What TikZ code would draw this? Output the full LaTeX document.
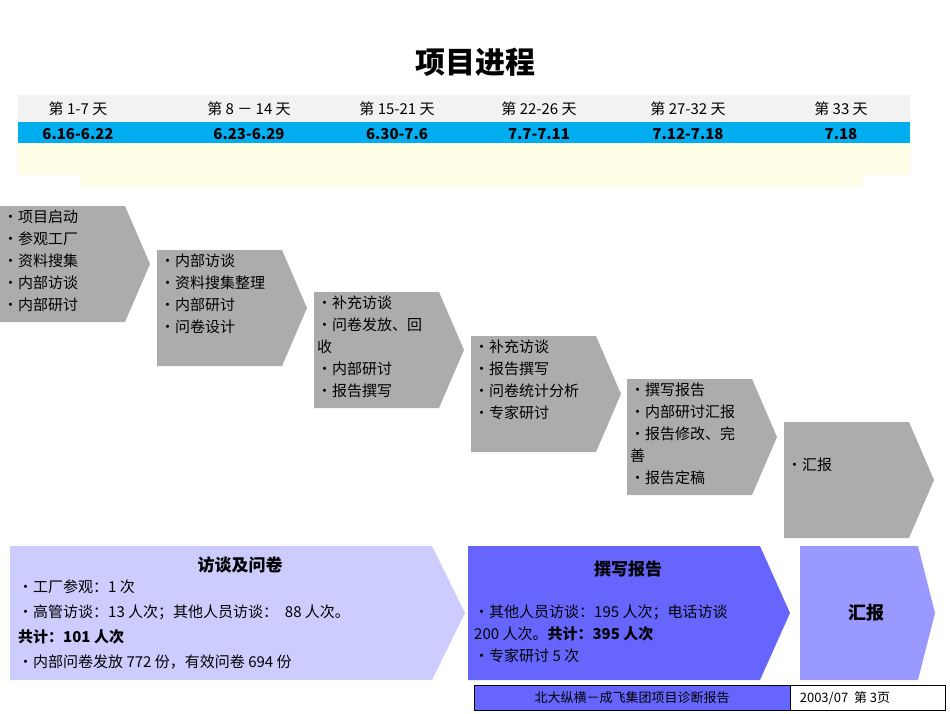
\documentclass[tikz,border=0pt]{standalone}
\usepackage{fontspec}
\setmainfont{Noto Sans CJK SC}
\begin{document}
\begin{tikzpicture}[x=1pt,y=-1pt,
 chev/.style={fill=gray!65,draw=white,line width=0.6pt},
 txt/.style={anchor=north west,align=left,font=\fontsize{15}{22}\selectfont,inner sep=0pt},
 hd/.style={font=\fontsize{15}{18}\selectfont\bfseries,inner sep=0pt}]
\useasboundingbox (0,0) rectangle (950,713);
\node[font=\fontsize{30}{34}\selectfont\bfseries] (title) at (475,62) {项目进程};
\fill[gray!10] (18,95) rectangle (910,122);
\fill[cyan] (18,122) rectangle (910,143);
\fill[yellow!10] (18,143) rectangle (910,175);
\fill[yellow!10] (80,175) rectangle (862,187);
\foreach \x/\a/\b [count=\i] in {78/第 1-7 天/6.16-6.22, 249/第 8 － 14 天/6.23-6.29, 397/第 15-21 天/6.30-7.6, 539/第 22-26 天/7.7-7.11, 688/第 27-32 天/7.12-7.18, 841/第 33 天/7.18}{
 \node[hd,font=\fontsize{15}{18}\selectfont] (d\i) at (\x,109) {\a};
 \node[hd] (t\i) at (\x,134) {\b};
}
\foreach \x/\y/\t [count=\i] in {
 0/206/{•项目启动\\•参观工厂\\•资料搜集\\•内部访谈\\•内部研讨},
 157/250/{•内部访谈\\•资料搜集整理\\•内部研讨\\•问卷设计},
 314/292/{•补充访谈\\•问卷发放、回\\收\\•内部研讨\\•报告撰写},
 471/336/{•补充访谈\\•报告撰写\\•问卷统计分析\\•专家研讨},
 627/379/{•撰写报告\\•内部研讨汇报\\•报告修改、完\\善\\•报告定稿},
 784/422/{~\\~\\•汇报}}{
 \fill[gray!65] (\x,\y) -- ++(125,0) -- ++(25,58) -- ++(-25,58) -- ++(-125,0) -- cycle;
 \node[txt] (c\i) at (\x+3,\y+4) {\t};
}
\fill[blue!20] (10,546) -- (432,546) -- (465,613) -- (432,680) -- (10,680) -- cycle;
\fill[blue!60] (468,546) -- (760,546) -- (790,613) -- (760,680) -- (468,680) -- cycle;
\fill[blue!40] (800,546) -- (918,546) -- (935,613) -- (918,680) -- (800,680) -- cycle;
\node[font=\fontsize{17}{20}\selectfont\bfseries] (h1) at (240,565) {访谈及问卷};
\node[txt] (b1) at (18,580) {•工厂参观：1 次\\[3pt]•高管访谈：13 人次；其他人员访谈：\ \ 88 人次。\\[3pt]\textbf{\textit{共计：101 人次}}\\[3pt]•内部问卷发放 772 份，有效问卷 694 份};
\node[font=\fontsize{17}{20}\selectfont\bfseries] (h2) at (628,569) {撰写报告};
\node[txt] (b2) at (474,605) {•其他人员访谈：195 人次；电话访谈\\200 人次。\textbf{\textit{共计：395 人次}}\\•专家研讨 5 次};
\node[font=\fontsize{18}{20}\selectfont\bfseries] (h3) at (866,613) {汇报};
\draw[fill=blue!60] (474,685) rectangle (790,710);
\draw (790,685) rectangle (945,710);
\node[font=\fontsize{13}{15}\selectfont] (f1) at (632,698) {北大纵横－成飞集团项目诊断报告};
\node[font=\fontsize{13}{15}\selectfont] (f2) at (845,698) {2003/07\ \ 第 3页};
\end{tikzpicture}
\end{document}
